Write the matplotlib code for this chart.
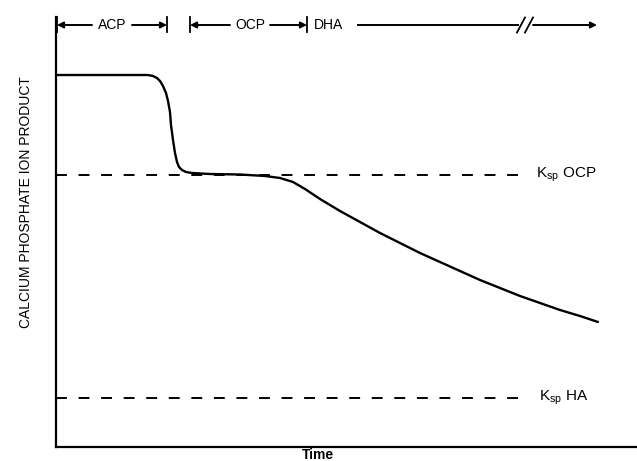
import matplotlib.pyplot as plt

plt.rcParams['font.family'] = ['Liberation Sans', 'DejaVu Sans']
plt.rcParams['mathtext.fontset'] = 'custom'
plt.rcParams['mathtext.rm'] = 'Liberation Sans'

# curve (arbitrary units: time 0..581, ion product 0..430)
time = [0, 44, 92, 97, 101, 104, 107, 110, 112, 114, 115, 117, 119, 121, 123, 126, 130, 136,
        154, 184, 209, 224, 237, 249, 264, 284, 304, 324, 344, 364, 384, 404, 424, 444,
        464, 484, 504, 524, 542]
ion_product = [372, 372, 372, 371, 369, 366, 361, 354, 346, 335, 322, 307, 294, 285, 280, 277,
               275, 274, 273, 272.5, 271, 269, 265, 258, 248, 236, 225, 214, 204, 194, 185,
               176, 167, 159, 151, 144, 137, 131, 125]

ksp_ocp = 272
ksp_ha = 49
ksp_labels = [r'$\mathregular{K_{sp}}$ OCP', r'$\mathregular{K_{sp}}$ HA']

# phase spans along the top
phases = ['ACP', 'OCP']
phase_start = [1, 134]
phase_end = [111, 251]
phase_mid = [56, 194]
phase_half = [17, 17]

fig = plt.figure(figsize=(6.37, 4.61), dpi=100)
ax = fig.add_axes([56 / 637, 14 / 461, 581 / 637, 430 / 461])
ax.set_xlim(0, 581)
ax.set_ylim(0, 430)
for s in ['top', 'right']:
    ax.spines[s].set_visible(False)
for s in ['left', 'bottom']:
    ax.spines[s].set_linewidth(1.6)
ax.set_xticks([])
ax.set_yticks([])

ax.plot(time, ion_product, color='black', lw=1.7, solid_capstyle='round', solid_joinstyle='round')

ax.plot([0, 472], [ksp_ocp, ksp_ocp], color='black', lw=1.4, dashes=(5.6, 6))
ax.plot([0, 472], [ksp_ha, ksp_ha], color='black', lw=1.4, dashes=(5.6, 6))
ax.text(480, ksp_ocp, ksp_labels[0], fontsize=11, va='center', ha='left')
ax.text(483, ksp_ha, ksp_labels[1], fontsize=11, va='center', ha='left')

ytop = 422
arrow = dict(arrowstyle='-|>', lw=1.4, color='black', mutation_scale=9, shrinkA=0, shrinkB=0)
for name, x0, x1, xm, hw in zip(phases, phase_start, phase_end, phase_mid, phase_half):
    ax.text(xm, ytop, name, fontsize=10, ha='center', va='center')
    ax.annotate('', xy=(x0, ytop), xytext=(xm - hw - 3, ytop), arrowprops=arrow, annotation_clip=False)
    ax.annotate('', xy=(x1, ytop), xytext=(xm + hw + 3, ytop), arrowprops=arrow, annotation_clip=False)
    ax.plot([x0, x0], [ytop - 7.5, ytop + 7.5], color='black', lw=1.3, clip_on=False)
    ax.plot([x1, x1], [ytop - 7.5, ytop + 7.5], color='black', lw=1.3, clip_on=False)

ax.text(258, ytop, 'DHA', fontsize=10, ha='left', va='center')
ax.plot([302, 462], [ytop, ytop], color='black', lw=1.4, clip_on=False)
ax.annotate('', xy=(541, ytop), xytext=(477, ytop), arrowprops=arrow, annotation_clip=False)
for xs in [461, 469]:
    ax.plot([xs, xs + 8], [ytop - 7.5, ytop + 7.5], color='black', lw=1.3, clip_on=False)

ax.set_xlabel('Time', fontsize=10, fontweight='bold')
ax.xaxis.set_label_coords(0.451, -0.003)
ax.set_ylabel('CALCIUM PHOSPHATE ION PRODUCT', fontsize=10)
ax.yaxis.set_label_coords(-0.04, 0.57)

fig.savefig('out.png', dpi=100)
